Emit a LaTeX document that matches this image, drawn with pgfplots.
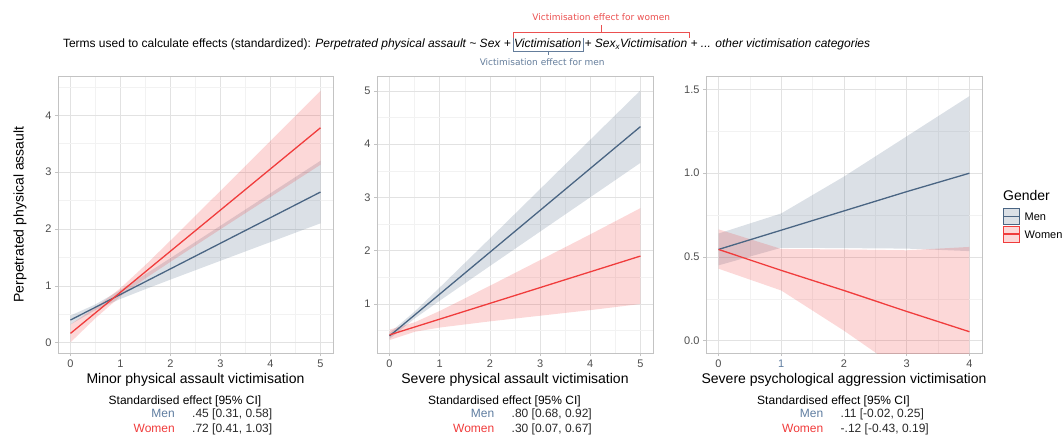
\documentclass[border=0pt]{standalone}
\usepackage{pgfplots}
\pgfplotsset{compat=1.18}
\usetikzlibrary{calc}
\usepackage{fontspec}
\setmainfont{Liberation Sans}
\newfontfamily\dejavu{DejaVu Sans}
\definecolor{menc}{RGB}{74,101,131}
\definecolor{womenc}{RGB}{240,60,60}
\definecolor{mentext}{RGB}{95,125,160}
\definecolor{gridc}{RGB}{226,226,226}
\definecolor{minorgridc}{RGB}{242,242,242}
\definecolor{framec}{RGB}{195,195,195}
\definecolor{tickc}{RGB}{77,77,77}
\definecolor{redann}{RGB}{235,80,80}
\definecolor{blueann}{RGB}{100,125,155}
\definecolor{valc}{RGB}{40,40,40}

\pgfplotsset{
  panel/.style={
    scale only axis, height=277pt, anchor=south west,
    axis line style={framec, line width=0.6pt},
    tick align=outside, tick pos=left,
    major tick length=3pt, minor tick length=0pt,
    tick style={framec, line width=0.6pt},
    grid=both,
    major grid style={gridc, line width=0.6pt},
    minor grid style={minorgridc, line width=0.45pt},
    ticklabel style={font=\fontsize{11}{13}\selectfont, text=tickc},
    xlabel style={font=\fontsize{14}{16}\selectfont, at={(axis description cs:0.5,-0.0975)}, anchor=center},
    ylabel style={font=\fontsize{14}{16}\selectfont},
  },
  menband/.style={fill=menc, fill opacity=0.2, draw=none},
  womenband/.style={fill=womenc, fill opacity=0.2, draw=none},
  menline/.style={menc, line width=1.3pt},
  womenline/.style={womenc, line width=1.3pt},
}

\begin{document}
\begin{tikzpicture}
\path[use as bounding box] (0pt,0pt) rectangle (1064pt,-436pt);

% ---------- Panel 1 ----------
\begin{axis}[panel, at={(58pt,-353pt)}, width=275pt,
  xmin=-0.25, xmax=5.25, ymin=-0.18, ymax=4.69,
  xtick={0,1,2,3,4,5}, xticklabels={0,1,2,3,4,5},
  minor xtick={0.5,1.5,2.5,3.5,4.5},
  ytick={0,1,2,3,4}, yticklabels={0,1,2,3,4},
  minor ytick={0.5,1.5,2.5,3.5,4.5},
  xlabel={Minor physical assault victimisation},
  ylabel={Perpetrated physical assault},
  ylabel style={at={(axis description cs:-0.138,0.5)}, anchor=center},
]
\addplot[menband] coordinates {(0,0.479)(0.5,0.675)(1,0.929)(1.5,1.207)(2,1.489)(3,2.058)(4,2.629)(5,3.20)
  (5,2.10)(4,1.771)(3,1.442)(2,1.111)(1.5,0.943)(1,0.771)(0.5,0.575)(0,0.321)} -- cycle;
\addplot[womenband] coordinates {(0,0.323)(0.5,0.621)(1,0.960)(1.5,1.368)(2,1.798)(3,2.672)(4,3.551)(5,4.43)
  (5,3.13)(4,2.563)(3,1.996)(2,1.424)(1.5,1.132)(1,0.816)(0.5,0.433)(0,0.007)} -- cycle;
\addplot[menline] coordinates {(0,0.40)(5,2.65)};
\addplot[womenline] coordinates {(0,0.165)(5,3.78)};
\end{axis}

% ---------- Panel 2 ----------
\begin{axis}[panel, at={(377pt,-353pt)}, width=276pt,
  xmin=-0.25, xmax=5.25, ymin=0.08, ymax=5.28,
  xtick={0,1,2,3,4,5}, xticklabels={0,1,2,3,4,5},
  minor xtick={0.5,1.5,2.5,3.5,4.5},
  ytick={1,2,3,4,5}, yticklabels={1,2,3,4,5},
  minor ytick={0.5,1.5,2.5,3.5,4.5},
  xlabel={Severe physical assault victimisation},
]
\addplot[menband] coordinates {(0,0.457)(0.5,0.859)(1,1.310)(2,2.231)(3,3.157)(4,4.084)(5,5.01)
  (5,3.65)(4,3.004)(3,2.359)(2,1.713)(1,1.062)(0.5,0.727)(0,0.343)} -- cycle;
\addplot[womenband] coordinates {(0,0.518)(0.5,0.656)(1,0.870)(2,1.342)(3,1.824)(4,2.307)(5,2.80)
  (5,1.00)(4,0.885)(3,0.780)(2,0.674)(1,0.558)(0.5,0.478)(0,0.322)} -- cycle;
\addplot[menline] coordinates {(0,0.40)(5,4.33)};
\addplot[womenline] coordinates {(0,0.42)(5,1.90)};
\end{axis}

% ---------- Panel 3 ----------
\begin{axis}[panel, at={(706pt,-353pt)}, width=276pt,
  xmin=-0.2, xmax=4.2, ymin=-0.073, ymax=1.58,
  xtick={0,1,2,3,4}, xticklabels={0,\textcolor{mentext}{1},2,3,4},
  minor xtick={0.5,1.5,2.5,3.5},
  ytick={0,0.5,1,1.5}, yticklabels={0.0,0.5,1.0,1.5},
  minor ytick={0.25,0.75,1.25},
  xlabel={Severe psychological aggression victimisation},
]
\addplot[menband] coordinates {(0,0.64)(1,0.76)(2,0.98)(3,1.22)(4,1.46)
  (4,0.535)(3,0.55)(2,0.553)(1,0.555)(0,0.45)} -- cycle;
\addplot[womenband] coordinates {(0,0.665)(1,0.548)(2,0.545)(3,0.54)(4,0.56)
  (4,-0.45)(3,-0.2)(2,0.06)(1,0.30)(0,0.43)} -- cycle;
\addplot[menline] coordinates {(0,0.545)(1,0.66)(2,0.775)(3,0.89)(4,1.0)};
\addplot[womenline] coordinates {(0,0.545)(1,0.42)(2,0.30)(3,0.175)(4,0.054)};
\end{axis}

% ---------- Legend ----------
\node[anchor=base west, inner sep=0, font=\fontsize{14}{16}\selectfont] at (1003pt,-200pt) {Gender};
\draw[menc, fill=menc!20, line width=0.6pt] (1003.5pt,-208.5pt) rectangle (1019.5pt,-224.5pt);
\draw[menc, line width=1.3pt] (1003.5pt,-216.5pt) -- (1019.5pt,-216.5pt);
\draw[womenc, fill=womenc!20, line width=0.6pt] (1003.5pt,-226pt) rectangle (1019.5pt,-242pt);
\draw[womenc, line width=1.3pt] (1003.5pt,-234pt) -- (1019.5pt,-234pt);
\node[anchor=base west, inner sep=0, font=\fontsize{11}{13}\selectfont] at (1024.5pt,-220.5pt) {Men};
\node[anchor=base west, inner sep=0, font=\fontsize{11}{13}\selectfont] at (1024.5pt,-238pt) {Women};

% ---------- Title line with brackets ----------
\begin{scope}[every node/.style={inner sep=0, outer sep=0, font=\fontsize{12}{14}\selectfont, anchor=base west}]
\node (t1) at (63pt,-47.3pt) {Terms used to calculate effects (standardized): \textit{Perpetrated physical assault \textasciitilde{} Sex +}};
\node (tv) at ([xshift=3.34pt]t1.base east) {\textit{Victimisation}};
\node (t2) at ([xshift=3.34pt]tv.base east) {\textit{+ Sex\textsubscript{x}Victimisation}};
\node (t3) at ([xshift=3.34pt]t2.base east) {\textit{+ ... other victimisation categories}};
\end{scope}
\coordinate (yR1) at (0pt,-32pt);
\coordinate (yR2) at (0pt,-38pt);
\coordinate (yB2) at (0pt,-51pt);
\coordinate (yRt) at (0pt,-25pt);
\coordinate (yBt) at (0pt,-55pt);
\coordinate (yRtext) at (0pt,-17pt);
\coordinate (yBtext) at (0pt,-62pt);
\coordinate (xL) at ([xshift=-1pt]tv.base west);
\coordinate (xBR) at ([xshift=2pt]tv.base east);
\coordinate (xRR) at ([xshift=2pt]t2.base east);
\coordinate (xRM) at ($(xL)!0.5!(xRR)$);
\coordinate (xBM) at ($(xL)!0.5!(xBR)$);
\draw[redann, line width=0.8pt] (xL |- yR2) -- (xL |- yR1) -- (xRR |- yR1) -- (xRR |- yR2);
\draw[redann, line width=0.8pt] (xRM |- yR1) -- (xRM |- yRt);
\draw[blueann, line width=0.8pt] (xL |- yR2) -- (xL |- yB2) -- (xBR |- yB2) -- (xBR |- yR2);
\draw[blueann, line width=0.8pt] (xBM |- yB2) -- (xBM |- yBt);
\node[font=\dejavu\fontsize{9}{11}\selectfont, text=redann, inner sep=0] at (xRM |- yRtext) {Victimisation effect for women};
\node[font=\dejavu\fontsize{9}{11}\selectfont, text=blueann, inner sep=0] at ([xshift=-6pt]xBM |- yBtext) {Victimisation effect for men};

% ---------- Effect tables ----------
\begin{scope}[every node/.style={inner sep=0, font=\fontsize{12}{14}\selectfont}]
% panel 1 (centre 195.5)
\node[anchor=base] at (185pt,-404.3pt) {Standardised effect [95\% CI]};
\node[anchor=base east, text=mentext] at (175pt,-417.5pt) {Men};
\node[anchor=base west, text=valc] at (192pt,-417.5pt) {.45 [0.31, 0.58]};
\node[anchor=base east, text=womenc] at (175pt,-432.5pt) {Women};
\node[anchor=base west, text=valc] at (192pt,-432.5pt) {.72 [0.41, 1.03]};
% panel 2 (centre 515)
\node[anchor=base] at (504.5pt,-404.3pt) {Standardised effect [95\% CI]};
\node[anchor=base east, text=mentext] at (494.5pt,-417.5pt) {Men};
\node[anchor=base west, text=valc] at (511.5pt,-417.5pt) {.80 [0.68, 0.92]};
\node[anchor=base east, text=womenc] at (494.5pt,-432.5pt) {Women};
\node[anchor=base west, text=valc] at (511.5pt,-432.5pt) {.30 [0.07, 0.67]};
% panel 3 (centre 844)
\node[anchor=base] at (833.5pt,-404.3pt) {Standardised effect [95\% CI]};
\node[anchor=base east, text=mentext] at (823.5pt,-417.5pt) {Men};
\node[anchor=base west, text=valc] at (840.5pt,-417.5pt) {.11 [-0.02, 0.25]};
\node[anchor=base east, text=womenc] at (823.5pt,-432.5pt) {Women};
\node[anchor=base west, text=valc] at (840.5pt,-432.5pt) {-.12 [-0.43, 0.19]};
\end{scope}
\end{tikzpicture}
\end{document}
